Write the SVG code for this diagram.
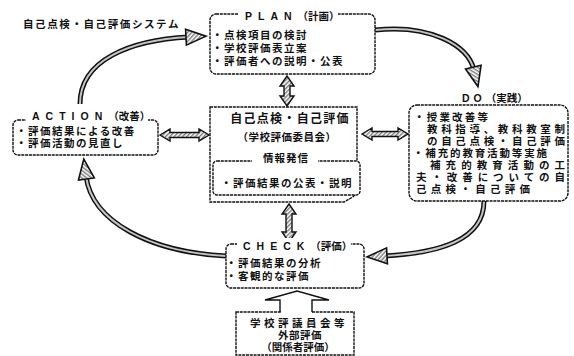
<svg xmlns="http://www.w3.org/2000/svg" width="574" height="356" viewBox="0 0 574 356">
<defs>
<pattern id="hatch" width="3" height="3" patternUnits="userSpaceOnUse" patternTransform="rotate(45)">
<rect width="3" height="3" fill="#fff"/><rect width="1.4" height="3" fill="#777"/>
</pattern>
<marker id="head" viewBox="0 0 20 16" refX="3" refY="8" markerWidth="20" markerHeight="16" markerUnits="userSpaceOnUse" orient="auto" style="overflow:visible">
<path d="M0,0 L20,8 L0,16 Z" fill="url(#hatch)" stroke="#111" stroke-width="1.6" stroke-linejoin="miter"/>
</marker>
<style>
text{font-family:"Liberation Sans","Noto Sans CJK JP","Noto Sans CJK SC",sans-serif;font-weight:700;fill:#111;}
.t{font-size:10.5px;letter-spacing:1.5px;}
.h{font-size:10.5px;}
.box{fill:#fff;stroke:#111;stroke-width:1.4;stroke-dasharray:3 0.8;}
.gap{fill:#fff;stroke:none;}
.outer{fill:none;stroke:#111;stroke-width:5;stroke-linecap:butt;}
.inner{fill:none;stroke:#c4c4c4;stroke-width:2;stroke-linecap:butt;}
.dbl{fill:url(#hatch);stroke:#111;stroke-width:1.4;stroke-linejoin:miter;}
</style>
</defs>
<rect width="574" height="356" fill="#fff"/>

<text id="title" class="t" x="23" y="28" style="letter-spacing:1.6px">自己点検・自己評価システム</text>

<g id="connectors">
<path class="outer" d="M80 104 C80 60 130 40 189 37"/>
<path class="inner" d="M80 104 C80 60 130 40 189 37" marker-end="url(#head)"/>
<path class="outer" d="M375 30 C430 24 468 45 474 70"/>
<path class="inner" d="M375 30 C430 24 468 45 474 70" marker-end="url(#head)"/>
<path class="outer" d="M484 201 C484 240 440 253 384 256"/>
<path class="inner" d="M484 201 C484 240 440 253 384 256" marker-end="url(#head)"/>
<path class="outer" d="M226 256 C150 252 92 222 86 176"/>
<path class="inner" d="M226 256 C150 252 92 222 86 176" marker-end="url(#head)"/>
<path class="dbl" d="M160 135 L170 129 L170 132.5 L199 132.5 L199 129 L209 135 L199 141 L199 137.5 L170 137.5 L170 141 Z"/>
<path class="dbl" d="M362 134 L372 128 L372 131.5 L398 131.5 L398 128 L408 134 L398 140 L398 136.5 L372 136.5 L372 140 Z"/>
<path class="dbl" d="M287 76 L294 86 L290 86 L290 96 L294 96 L287 106 L280 96 L284 96 L284 86 L280 86 Z"/>
<path class="dbl" d="M289 204 L296 214 L292 214 L292 232 L296 232 L289 242 L282 232 L286 232 L286 214 L282 214 Z"/>
</g>

<g id="plan">
<rect class="box" x="210" y="14" width="165" height="60" rx="6"/>
<rect class="gap" x="238" y="8" width="100" height="14"/>
<text class="h" x="245" y="20"><tspan style="letter-spacing:6px">PLAN</tspan>（計画）</text>
<text class="t" x="212" y="39">・点検項目の検討</text>
<text class="t" x="212" y="52">・学校評価表立案</text>
<text class="t" x="212" y="65">・評価者への説明・公表</text>
</g>

<g id="do">
<text class="h" x="462" y="102"><tspan style="letter-spacing:4px">DO</tspan>（実践）</text>
<rect class="box" x="409" y="105" width="159" height="96" rx="8"/>
<text class="h" x="414" y="121" textLength="74" lengthAdjust="spacing">・授業改善等</text>
<text class="h" x="427" y="133" textLength="138" lengthAdjust="spacing">教科指導、教科教室制</text>
<text class="h" x="427" y="145" textLength="138" lengthAdjust="spacing">の自己点検・自己評価</text>
<text class="h" x="413" y="157" textLength="134" lengthAdjust="spacing">・補充的教育活動等実施</text>
<text class="h" x="430" y="169" textLength="135" lengthAdjust="spacing">補充的教育活動の工</text>
<text class="h" x="416" y="181" textLength="149" lengthAdjust="spacing">夫・改善についての自</text>
<text class="h" x="416" y="193" textLength="114" lengthAdjust="spacing">己点検・自己評価</text>
</g>

<g id="action">
<rect class="box" x="13" y="120" width="145" height="35" rx="5"/>
<rect class="gap" x="26" y="112" width="122" height="12"/>
<text class="h" x="32" y="120"><tspan style="letter-spacing:6px">ACTION</tspan>（改善）</text>
<text class="t" x="16" y="135">・評価結果による改善</text>
<text class="t" x="16" y="147">・評価活動の見直し</text>
</g>

<g id="center">
<path class="box" d="M210 107 H357 V189 Q357 195 351 198 L344 202 H210 Z"/>
<text x="290" y="123" text-anchor="middle" style="font-size:12px;letter-spacing:1.3px">自己点検・自己評価</text>
<text class="h" x="287" y="141" text-anchor="middle" style="letter-spacing:0.5px">（学校評価委員会）</text>
<rect class="box" x="213" y="161" width="147" height="34" rx="4"/>
<rect class="gap" x="252" y="154" width="66" height="12"/>
<text class="h" x="286" y="162" text-anchor="middle" style="letter-spacing:1px">情報発信</text>
<text class="t" x="221" y="187">・評価結果の公表・説明</text>
</g>

<g id="check">
<rect class="box" x="226" y="244" width="138" height="44" rx="5"/>
<rect class="gap" x="237" y="238" width="114" height="12"/>
<text class="h" x="243" y="250"><tspan style="letter-spacing:6px">CHECK</tspan>（評価）</text>
<text class="t" x="226" y="267">・評価結果の分析</text>
<text class="t" x="226" y="280">・客観的な評価</text>
</g>

<g id="external">
<rect class="box" x="236" y="312" width="118" height="43"/>
<path fill="#fff" stroke="none" d="M281 314 V300 H265 L297 291 L329 300 H312 V314 Z"/>
<path fill="none" stroke="#111" stroke-width="1.4" stroke-linejoin="miter" d="M280 312 V300 H265 L297 291 L329 300 H312 V312"/>
<text class="h" x="299" y="327" text-anchor="middle" style="letter-spacing:3.5px">学校評議員会等</text>
<text class="h" x="300" y="339" text-anchor="middle" style="letter-spacing:0.5px">外部評価</text>
<text class="h" x="298" y="351" text-anchor="middle" style="letter-spacing:0px">（関係者評価）</text>
</g>
</svg>
